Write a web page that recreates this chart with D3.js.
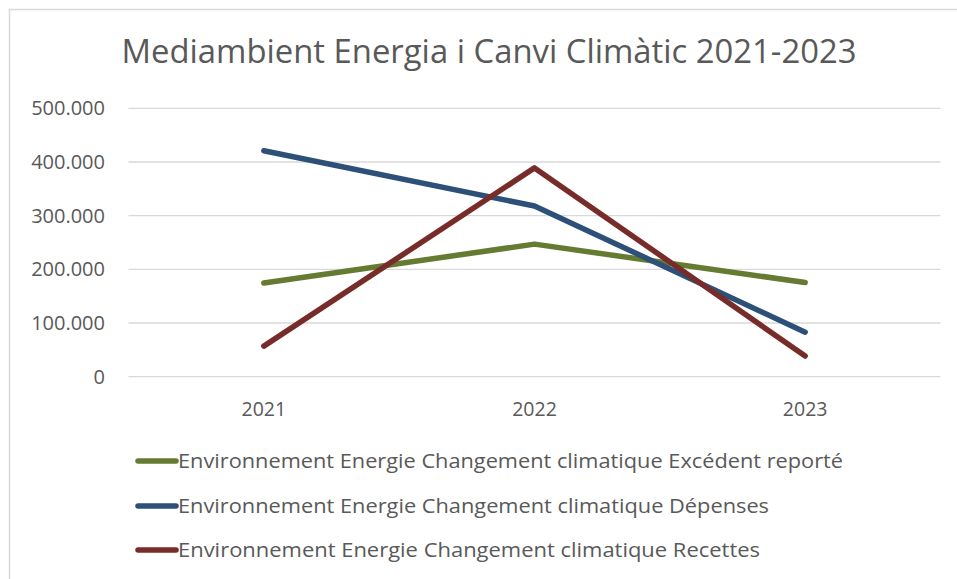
<!DOCTYPE html>
<html>
<head>
<meta charset="utf-8">
<script src="https://cdn.jsdelivr.net/npm/d3@7"></script>
<style>
  body { margin: 0; background: #fff; }
  text { font-family: "Open Sans", "Noto Sans", sans-serif; fill: #595959; }
</style>
</head>
<body>
<div id="chart"></div>
<script>
// chart data
const years = ["2021", "2022", "2023"];
const excedent = [174500, 247000, 175500];
const depenses = [421000, 318000, 83000];
const recettes = [57000, 389000, 38500];
const yTicks = [0, 100000, 200000, 300000, 400000, 500000];
const seriesNames = [
  "Environnement Energie Changement climatique Excédent reporté",
  "Environnement Energie Changement climatique Dépenses",
  "Environnement Energie Changement climatique Recettes"
];
const seriesColors = ["#647B31", "#2D5079", "#782C2A"];

const width = 957;
const height = 579;

const svg = d3.select("#chart")
    .append("svg")
    .attr("width", width)
    .attr("height", height);

// outer chart border (runs off the right / bottom edge)
svg.append("rect")
    .attr("x", 9.5).attr("y", 9.5)
    .attr("width", 960).attr("height", 600)
    .attr("fill", "none")
    .attr("stroke", "#d9d9d9")
    .attr("stroke-width", 1.5);

svg.append("text")
    .attr("x", 489).attr("y", 63)
    .attr("text-anchor", "middle")
    .attr("font-size", 33)
    .attr("textLength", 735)
    .attr("lengthAdjust", "spacingAndGlyphs")
    .text("Mediambient Energia i Canvi Climàtic 2021-2023");

const x = d3.scaleBand().domain(years).range([128.5, 940.5]);
const y = d3.scaleLinear().domain([0, 500000]).range([376.7, 108.3]);

const g = svg.append("g");

// gridlines
g.selectAll("line.grid")
    .data(yTicks)
    .enter()
    .append("line")
    .attr("class", "grid")
    .attr("x1", x.range()[0]).attr("x2", x.range()[1])
    .attr("y1", d => y(d)).attr("y2", d => y(d))
    .attr("stroke", "#d9d9d9")
    .attr("stroke-width", 1.3);

// y labels
const fmt = d => d3.format(",")(d).replace(/,/g, ".");
g.selectAll("text.ylab")
    .data(yTicks)
    .enter()
    .append("text")
    .attr("class", "ylab")
    .attr("x", 105)
    .attr("y", d => y(d))
    .attr("dy", "0.35em")
    .attr("text-anchor", "end")
    .attr("font-size", 20)
    .text(fmt);

// x labels
g.selectAll("text.xlab")
    .data(years)
    .enter()
    .append("text")
    .attr("class", "xlab")
    .attr("x", d => x(d) + x.bandwidth() / 2)
    .attr("y", 409)
    .attr("dy", "0.35em")
    .attr("text-anchor", "middle")
    .attr("font-size", 19.5)
    .text(d => d);

// lines
const allSeries = [excedent, depenses, recettes];
const line = d3.line()
    .x((d, i) => x(years[i]) + x.bandwidth() / 2)
    .y(d => y(d));

g.selectAll("path.series")
    .data(allSeries)
    .enter()
    .append("path")
    .attr("class", "series")
    .attr("d", line)
    .attr("fill", "none")
    .attr("stroke", (d, i) => seriesColors[i])
    .attr("stroke-width", 5.5)
    .attr("stroke-linecap", "round")
    .attr("stroke-linejoin", "round");

// legend
const legendY = [461, 506, 550];
const legendW = [665, 591, 582];
const leg = svg.selectAll("g.legend")
    .data(seriesNames)
    .enter()
    .append("g")
    .attr("class", "legend")
    .attr("transform", (d, i) => `translate(0,${legendY[i]})`);

leg.append("line")
    .attr("x1", 138).attr("x2", 176)
    .attr("stroke", (d, i) => seriesColors[i])
    .attr("stroke-width", 5.5)
    .attr("stroke-linecap", "round");

leg.append("text")
    .attr("x", 178)
    .attr("dy", "0.35em")
    .attr("font-size", 20)
    .attr("textLength", (d, i) => legendW[i])
    .attr("lengthAdjust", "spacingAndGlyphs")
    .text(d => d);
</script>
</body>
</html>
